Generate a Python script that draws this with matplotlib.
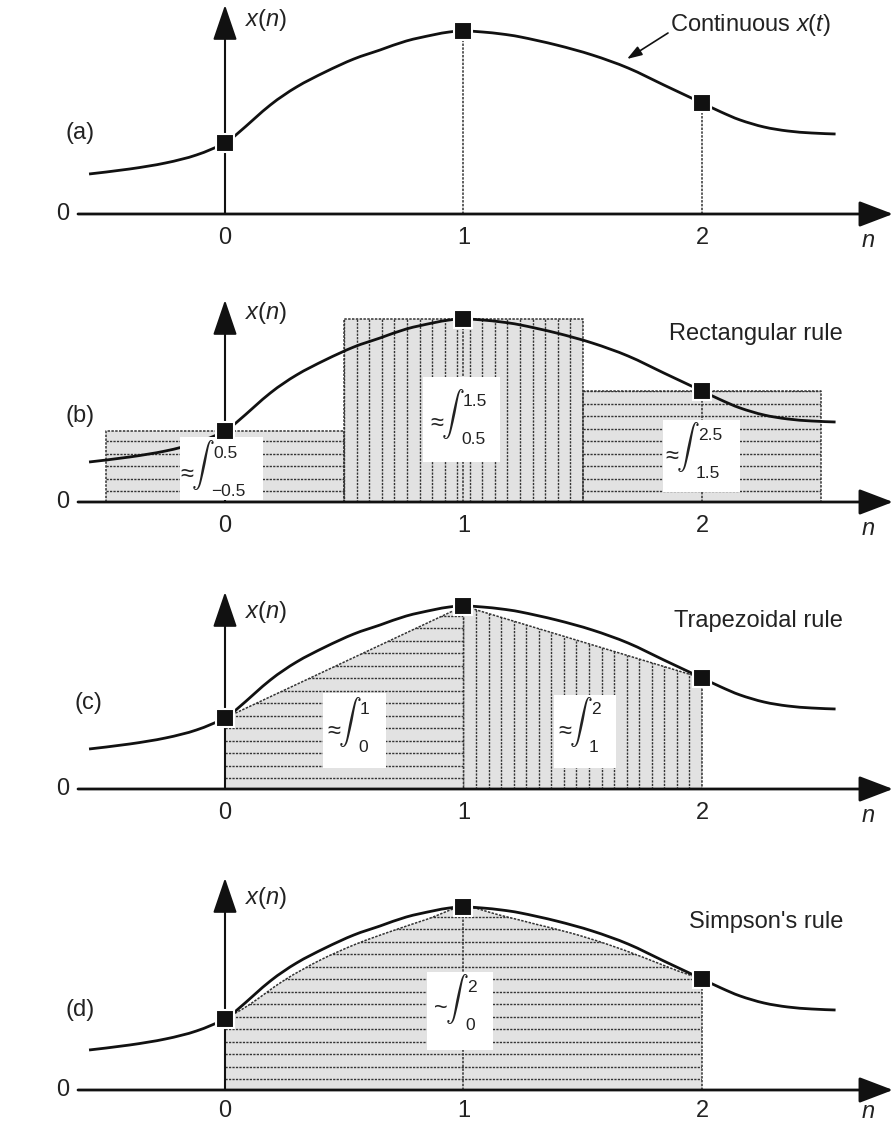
import numpy as np
import matplotlib
matplotlib.use('Agg')
import matplotlib.pyplot as plt
from matplotlib.patches import Polygon, Rectangle, PathPatch
from matplotlib.path import Path

plt.rcParams['font.family'] = ['Liberation Sans', 'DejaVu Sans']
plt.rcParams['mathtext.fontset'] = 'custom'
plt.rcParams['mathtext.rm'] = 'Liberation Sans'
plt.rcParams['mathtext.it'] = 'Liberation Sans:italic'

# ---------------- data ----------------
sample_n = [0, 1, 2]
sample_x = [0.71, 1.83, 1.11]

curve_t = [-0.57, -0.40, -0.25, -0.12, 0.0, 0.06, 0.19, 0.30, 0.42, 0.54, 0.65,
           0.76, 0.87, 0.94, 1.0, 1.08, 1.16, 1.24, 1.39, 1.54, 1.69, 1.84,
           1.92, 2.0, 2.08, 2.16, 2.26, 2.36, 2.46, 2.56]
curve_x = [0.40, 0.45, 0.51, 0.59, 0.71, 0.82, 1.09, 1.27, 1.42, 1.55, 1.64,
           1.73, 1.79, 1.82, 1.83, 1.82, 1.80, 1.77, 1.69, 1.59, 1.46, 1.29,
           1.20, 1.11, 1.02, 0.94, 0.87, 0.83, 0.81, 0.80]

simpson_t = [0, 0.1, 0.25, 0.4, 0.55, 0.7, 0.85, 1.0, 1.15, 1.3, 1.45, 1.6, 1.75, 1.9, 2.0]
simpson_x = [0.71, 0.85, 1.10, 1.30, 1.46, 1.59, 1.71, 1.83, 1.75, 1.66, 1.57, 1.46, 1.33, 1.19, 1.11]

tick_labels = ['0', '1', '2']
panel_labels = ['(a)', '(b)', '(c)', '(d)']
rule_names = ['', 'Rectangular rule', 'Trapezoidal rule', "Simpson's rule"]
rect_limits = [('\u22120.5', '0.5'), ('0.5', '1.5'), ('1.5', '2.5')]
trap_limits = [('0', '1'), ('1', '2')]
simp_limits = ('0', '2')

# ---------------- layout ----------------
W, H = 894, 1124
PX_N = 238.5       # pixels per unit of n
PX_V = 100.0       # pixels per unit of x
N0_PX = 225.0      # pixel column of n = 0
bands = [(0, 255, 214), (255, 545, 502), (545, 835, 789), (835, 1124, 1090)]
ytips = [2.09, 2.02, 1.97, 2.12]
xn_label_v = [1.94, 1.89, 1.77, 1.92]
n_label_off = [27, 27, 27, 22]
tick_off = [24, 24, 24, 21]
panel_label_pos = [(80, 0.81), (80, 0.86), (88, 0.86), (80, 0.80)]

K = '#111111'
TXT = '#222222'
FILL = '#e2e2e2'
DOT = '#333333'
DOTSTYLE = (0, (1.6, 0.9))
FS = 17


def nx(px):
    return (px - N0_PX) / PX_N


fig = plt.figure(figsize=(W / 100, H / 100), dpi=100)
axes = []
for top, bot, base in bands:
    ax = fig.add_axes([0, 1 - bot / H, 1, (bot - top) / H])
    ax.set_xlim(nx(0), nx(W))
    ax.set_ylim(-(bot - base) / PX_V, (base - top) / PX_V)
    ax.axis('off')
    axes.append(ax)


def smooth_path(xs, ys):
    """Catmull-Rom curve through the given points, drawn as cubic Bezier segments."""
    P = np.column_stack([xs, ys]).astype(float)
    verts = [P[0]]
    codes = [Path.MOVETO]
    m = len(P)
    for i in range(m - 1):
        p0 = P[i - 1] if i > 0 else P[i]
        p1, p2 = P[i], P[i + 1]
        p3 = P[i + 2] if i + 2 < m else P[i + 1]
        c1 = p1 + (p2 - p0) / 6.0
        c2 = p2 - (p3 - p1) / 6.0
        verts += [c1, c2, p2]
        codes += [Path.CURVE4] * 3
    return Path(verts, codes)


def hatch(ax, poly, horizontal=True, n_lo=-1, n_hi=3, v_hi=2.0, n_start=0.0, n_step=1 / 19):
    if horizontal:
        for v in np.arange(0.11, v_hi, 0.125):
            ln, = ax.plot([n_lo, n_hi], [v, v], color=DOT, lw=1.0, ls=DOTSTYLE, zorder=2)
            ln.set_clip_path(poly)
    else:
        for n in np.arange(n_start, n_hi + 1e-6, n_step):
            ln, = ax.plot([n, n], [0, v_hi], color=DOT, lw=1.0, ls=DOTSTYLE, zorder=2)
            ln.set_clip_path(poly)


def dotted(ax, xs, ys, z=3):
    ax.plot(xs, ys, color=DOT, lw=1.1, ls=DOTSTYLE, zorder=z)


def white_box(ax, n0, n1, v0, v1):
    ax.add_patch(Rectangle((n0, v0), n1 - n0, v1 - v0, facecolor='white',
                           edgecolor='none', zorder=6))


def integral_label(ax, base, cx, cy, lo, hi, sym='\u2248'):
    n = nx(cx)
    v = (base - cy) / PX_V
    ax.text(n - 16 / PX_N, v - 5 / PX_V, sym, ha='center', va='center',
            fontsize=17, color=TXT, zorder=7)
    ax.text(n, v + 5 / PX_V, r'$\int$', ha='center', va='center', fontsize=16.5,
            math_fontfamily='cm', color=TXT, zorder=7)
    ax.text(n + 10 / PX_N, v + 17 / PX_V, hi, ha='left', va='center',
            fontsize=12.5, color=TXT, zorder=7)
    ax.text(n + 8 / PX_N, v - 21 / PX_V, lo, ha='left', va='center',
            fontsize=12.5, color=TXT, zorder=7)


for i, ax in enumerate(axes):
    top, bot, base = bands[i]
    ax.annotate('', xy=(nx(893), 0), xytext=(nx(78), 0),
                arrowprops=dict(arrowstyle='-|>,head_length=2.1,head_width=0.8',
                                mutation_scale=10, lw=2.0, color=K,
                                shrinkA=0, shrinkB=0), zorder=4)
    ax.annotate('', xy=(0, ytips[i]), xytext=(0, 0),
                arrowprops=dict(arrowstyle='-|>,head_length=2.2,head_width=0.75',
                                mutation_scale=10, lw=1.5, color=K,
                                shrinkA=0, shrinkB=0), zorder=4)
    ax.text(nx(245), xn_label_v[i], '$x(n)$', ha='left', va='center',
            fontsize=FS, color=TXT)
    for n, lab in zip(sample_n, tick_labels):
        ax.text(n, -tick_off[i] / PX_V, lab, ha='center', va='center', fontsize=FS, color=TXT)
    ax.text(nx(63), 0, '0', ha='center', va='center', fontsize=FS, color=TXT)
    ax.text(nx(868), -n_label_off[i] / PX_V, '$n$', ha='center', va='center',
            fontsize=FS, color=TXT)
    px_lab, v_lab = panel_label_pos[i]
    ax.text(nx(px_lab), v_lab, panel_labels[i], ha='center', va='center',
            fontsize=FS, color=TXT)
    if rule_names[i]:
        ax.text(nx(843), 1.68, rule_names[i], ha='right', va='center',
                fontsize=FS, color=TXT)
    ax.add_patch(PathPatch(smooth_path(curve_t, curve_x), facecolor='none',
                           edgecolor=K, lw=2.0, zorder=5, capstyle='butt'))
    ax.plot(sample_n, sample_x, 's', ms=13, mfc=K, mec='white', mew=1.5,
            zorder=10, clip_on=False)

# ---- (a) ----
ax = axes[0]
for n, x in zip(sample_n[1:], sample_x[1:]):
    dotted(ax, [n, n], [0, x])
ax.text(nx(670), 1.89, 'Continuous $\\mathit{x(t)}$', ha='left', va='center',
        fontsize=FS, color=TXT)
ax.annotate('', xy=(nx(627), (214 - 59) / PX_V), xytext=(nx(668), (214 - 33) / PX_V),
            arrowprops=dict(arrowstyle='-|>,head_length=0.9,head_width=0.3',
                            mutation_scale=10, lw=1.2, color=K, shrinkA=0, shrinkB=0))

# ---- (b) rectangular ----
ax = axes[1]
for j, (n, x) in enumerate(zip(sample_n, sample_x)):
    pts = [(n - 0.5, 0), (n - 0.5, x), (n + 0.5, x), (n + 0.5, 0)]
    poly = Polygon(pts, closed=True, facecolor=FILL, edgecolor='none', zorder=1)
    ax.add_patch(poly)
    hatch(ax, poly, horizontal=(j != 1), n_lo=n - 0.5, n_hi=n + 0.5, v_hi=x + 0.01,
          n_start=n - 0.5)
    dotted(ax, [n - 0.5, n - 0.5, n + 0.5, n + 0.5], [0, x, x, 0])
    dotted(ax, [n, n], [0, x])
base = bands[1][2]
boxes_b = [(-0.189, 0.159, 0.02, 0.65), (0.830, 1.153, 0.40, 1.25), (1.836, 2.159, 0.10, 0.82)]
centers_b = [(203, 470), (453, 419), (688, 452)]
for bx, c, (lo, hi) in zip(boxes_b, centers_b, rect_limits):
    white_box(ax, *bx)
    integral_label(ax, base, c[0], c[1], lo, hi)

# ---- (c) trapezoidal ----
ax = axes[2]
for j in range(2):
    n0, n1 = sample_n[j], sample_n[j + 1]
    x0, x1 = sample_x[j], sample_x[j + 1]
    pts = [(n0, 0), (n0, x0), (n1, x1), (n1, 0)]
    poly = Polygon(pts, closed=True, facecolor=FILL, edgecolor='none', zorder=1)
    ax.add_patch(poly)
    hatch(ax, poly, horizontal=(j == 0), n_lo=n0, n_hi=n1, v_hi=max(x0, x1) + 0.01,
          n_start=n0)
    dotted(ax, [n0, n1, n1], [x0, x1, 0])
base = bands[2][2]
boxes_c = [(0.411, 0.675, 0.21, 0.96), (1.379, 1.639, 0.21, 0.94)]
centers_c = [(350, 727), (581, 727)]
for bx, c, (lo, hi) in zip(boxes_c, centers_c, trap_limits):
    white_box(ax, *bx)
    integral_label(ax, base, c[0], c[1], lo, hi)

# ---- (d) Simpson ----
ax = axes[3]
spath = smooth_path(simpson_t, simpson_x)
outline = list(spath.vertices) + [(simpson_t[-1], 0), (simpson_t[0], 0), tuple(spath.vertices[0])]
codes = list(spath.codes) + [Path.LINETO, Path.LINETO, Path.CLOSEPOLY]
region = PathPatch(Path(outline, codes), facecolor=FILL, edgecolor='none', zorder=1)
ax.add_patch(region)
hatch(ax, region, horizontal=True, n_lo=0, n_hi=2, v_hi=max(simpson_x) + 0.01)
ax.add_patch(PathPatch(spath, facecolor='none', edgecolor=DOT, lw=1.1,
                       ls=DOTSTYLE, zorder=3))
for n, x in zip(sample_n[1:], sample_x[1:]):
    dotted(ax, [n, n], [0, x])
base = bands[3][2]
white_box(ax, 0.847, 1.124, 0.40, 1.18)
integral_label(ax, base, 457, 1004, simp_limits[0], simp_limits[1], sym='~')

fig.savefig('out.png', dpi=100)
